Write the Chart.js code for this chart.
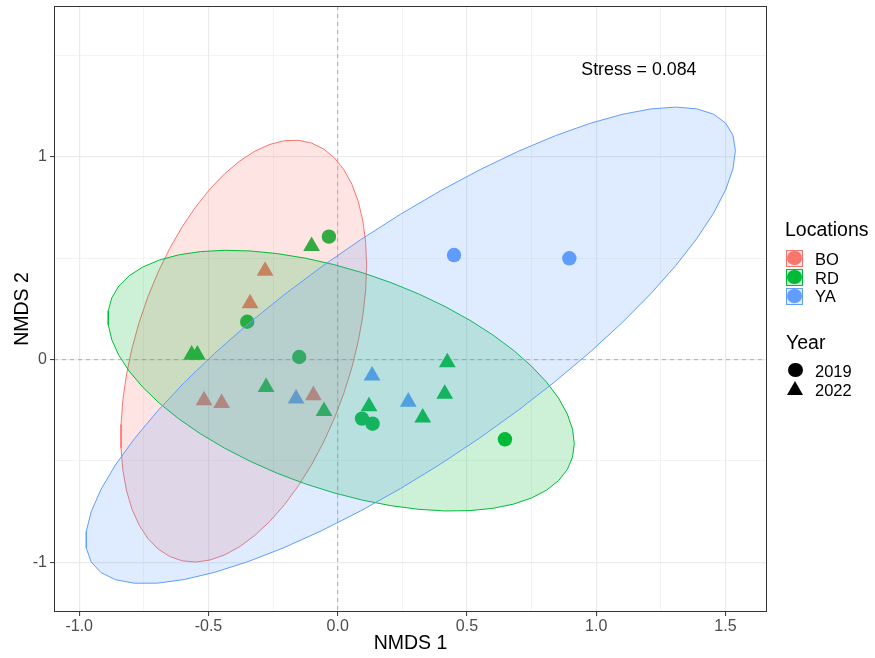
<!DOCTYPE html>
<html>
<head>
<meta charset="utf-8">
<script src="https://cdn.jsdelivr.net/npm/chart.js@4.4.0/dist/chart.umd.min.js"></script>
<style>
  html, body { margin: 0; padding: 0; background: #fff; }
  #wrap { position: relative; width: 875px; height: 658px; font-family: "Liberation Sans", Arial, sans-serif; }
  #nmds { position: absolute; left: 0; top: 0; }
  .lg { position: absolute; white-space: nowrap; color: #000; }
  .lg-title { font-size: 19.5px; line-height: 19.5px; }
  .lg-text { font-size: 16.5px; line-height: 16.5px; }
  .key { position: absolute; width: 17px; height: 17px; box-sizing: border-box; border: 1px solid; }
  .dot { position: absolute; width: 14.4px; height: 14.4px; border-radius: 50%; }
  .tri { position: absolute; width: 0; height: 0; border-left: 8.5px solid transparent; border-right: 8.5px solid transparent; border-bottom: 14.7px solid #000; }
</style>
</head>
<body>
<div id="wrap">
  <canvas id="nmds" width="875" height="658"></canvas>

  <div class="lg lg-title" style="left:785px; top:220px;">Locations</div>
  <div class="key" id="keyBO" style="left:786px; top:249.5px;"><div class="dot" style="left:0.3px; top:0.3px;"></div></div>
  <div class="key" id="keyRD" style="left:786px; top:268.5px;"><div class="dot" style="left:0.3px; top:0.3px;"></div></div>
  <div class="key" id="keyYA" style="left:786px; top:287.5px;"><div class="dot" style="left:0.3px; top:0.3px;"></div></div>
  <div class="lg lg-text" style="left:815px; top:251px;">BO</div>
  <div class="lg lg-text" style="left:815px; top:269.5px;">RD</div>
  <div class="lg lg-text" style="left:815px; top:288px;">YA</div>

  <div class="lg lg-title" style="left:786px; top:333px;">Year</div>
  <div class="dot" style="left:788.3px; top:362.8px; background:#000;"></div>
  <div class="tri" style="left:787px; top:380.5px;"></div>
  <div class="lg lg-text" style="left:815px; top:363px;">2019</div>
  <div class="lg lg-text" style="left:815px; top:382px;">2022</div>
</div>

<script>
// NMDS scores, one pair of arrays per location / year
const bo2022X = [-0.281, -0.339, -0.517, -0.449, -0.094];
const bo2022Y = [0.438, 0.277, -0.201, -0.215, -0.176];

const rd2019X = [-0.034, -0.350, -0.149, 0.094, 0.135, 0.647];
const rd2019Y = [0.607, 0.187, 0.013, -0.291, -0.316, -0.393];
const rd2022X = [-0.101, -0.565, -0.543, -0.277, -0.053, 0.424, 0.414, 0.121, 0.329];
const rd2022Y = [0.560, 0.024, 0.024, -0.136, -0.254, -0.014, -0.169, -0.231, -0.286];

const ya2019X = [0.450, 0.896];
const ya2019Y = [0.516, 0.500];
const ya2022X = [-0.161, 0.133, 0.273];
const ya2022Y = [-0.193, -0.079, -0.208];

const locations = ['BO', 'RD', 'YA'];
const years = ['2019', '2022'];

const xMajorTicks = [-1, -0.5, 0, 0.5, 1, 1.5];
const xMinorTicks = [-0.75, -0.25, 0.25, 0.75, 1.25];
const yMajorTicks = [-1, 0, 1];
const yMinorTicks = [-0.5, 0.5, 1.5];

const xLimits = [-1.0975, 1.6607];
const yLimits = [-1.2452, 1.745];

const stressText = 'Stress = 0.084';
const stressAt = [1.165, 1.428];

// colours (ggplot default hue palette)
const colours = { BO: '#F8766D', RD: '#00BA38', YA: '#619CFF' };
const FONT = '"Liberation Sans", Arial, sans-serif';

function alpha(hex, a) {
    const n = parseInt(hex.slice(1), 16);
    return `rgba(${(n >> 16) & 255}, ${(n >> 8) & 255}, ${n & 255}, ${a})`;
}

function toPoints(xs, ys) {
    return xs.map((x, i) => ({ x: x, y: ys[i] }));
}

// MASS::cov.trob, as used by ggplot2::stat_ellipse (type = "t")
function covTrob(xs, ys, nu = 5, maxit = 25, tol = 0.01) {
    const n = xs.length, p = 2;
    let w = new Array(n).fill(1);
    let locX = xs.reduce((a, b) => a + b, 0) / n;
    let locY = ys.reduce((a, b) => a + b, 0) / n;
    let dx = [], dy = [];
    for (let iter = 0; iter < maxit; iter++) {
        const w0 = w.slice();
        dx = xs.map(v => v - locX);
        dy = ys.map(v => v - locY);
        const sw = w.reduce((a, b) => a + b, 0);
        let cxx = 0, cxy = 0, cyy = 0;
        for (let i = 0; i < n; i++) {
            cxx += w[i] * dx[i] * dx[i] / sw;
            cxy += w[i] * dx[i] * dy[i] / sw;
            cyy += w[i] * dy[i] * dy[i] / sw;
        }
        const det = cxx * cyy - cxy * cxy;
        w = dx.map((_, i) => {
            const q = (cyy * dx[i] * dx[i] - 2 * cxy * dx[i] * dy[i] + cxx * dy[i] * dy[i]) / det;
            return (nu + p) / (nu + q);
        });
        const sw2 = w.reduce((a, b) => a + b, 0);
        locX = xs.reduce((a, v, i) => a + w[i] * v, 0) / sw2;
        locY = ys.reduce((a, v, i) => a + w[i] * v, 0) / sw2;
        if (w.every((v, i) => Math.abs(v - w0[i]) < tol)) break;
    }
    let sxx = 0, sxy = 0, syy = 0;
    for (let i = 0; i < n; i++) {
        sxx += w[i] * dx[i] * dx[i] / n;
        sxy += w[i] * dx[i] * dy[i] / n;
        syy += w[i] * dy[i] * dy[i] / n;
    }
    return { cx: locX, cy: locY, sxx: sxx, sxy: sxy, syy: syy };
}

// 95% ellipse outline, 51 segments like stat_ellipse
function ellipseOutline(xs, ys, level = 0.95, segments = 51) {
    const v = covTrob(xs, ys);
    const dfd = xs.length - 1;
    const qf = (dfd / 2) * (Math.pow(1 - level, -2 / dfd) - 1); // F(2, dfd) quantile
    const r = Math.sqrt(2 * qf);
    const r11 = Math.sqrt(v.sxx);
    const r12 = v.sxy / r11;
    const r22 = Math.sqrt(v.syy - r12 * r12);
    const out = [];
    for (let k = 0; k <= segments; k++) {
        const a = k * 2 * Math.PI / segments;
        const c = Math.cos(a), s = Math.sin(a);
        out.push({ x: v.cx + r * c * r11, y: v.cy + r * (c * r12 + s * r22) });
    }
    return out;
}

const groups = {
    BO: { x: [...bo2022X], y: [...bo2022Y] },
    RD: { x: [...rd2019X, ...rd2022X], y: [...rd2019Y, ...rd2022Y] },
    YA: { x: [...ya2019X, ...ya2022X], y: [...ya2019Y, ...ya2022Y] }
};

// ellipses sit on top of the points (lower order = drawn later)
const ellipseOrder = { BO: 3, RD: 2, YA: 1 };
const ellipseSets = locations.map(loc => ({
    type: 'line',
    label: loc + ' ellipse',
    data: ellipseOutline(groups[loc].x, groups[loc].y),
    borderColor: colours[loc],
    borderWidth: 1,
    backgroundColor: alpha(colours[loc], 0.2),
    fill: 'shape',
    pointRadius: 0,
    tension: 0,
    order: ellipseOrder[loc]
}));

function pointSet(loc, year, xs, ys) {
    const circle = year === '2019';
    return {
        label: loc + ' ' + year,
        data: toPoints(xs, ys),
        pointStyle: circle ? 'circle' : 'triangle',
        pointRadius: circle ? 7.2 : 9.7,
        pointHoverRadius: circle ? 7.2 : 9.7,
        pointBorderWidth: 0,
        backgroundColor: colours[loc],
        borderColor: colours[loc],
        order: 10
    };
}

const pointSets = [
    pointSet('BO', years[1], bo2022X, bo2022Y),
    pointSet('RD', years[0], rd2019X, rd2019Y),
    pointSet('RD', years[1], rd2022X, rd2022Y),
    pointSet('YA', years[0], ya2019X, ya2019Y),
    pointSet('YA', years[1], ya2022X, ya2022Y)
];

// legend key colours
locations.forEach(loc => {
    const key = document.getElementById('key' + loc);
    key.style.borderColor = colours[loc];
    key.style.background = alpha(colours[loc], 0.2);
    key.firstElementChild.style.background = colours[loc];
});

const isIn = (list, v) => list.some(m => Math.abs(m - v) < 1e-9);

const panelPlugin = {
    id: 'panel',
    beforeDatasetsDraw(chart) {
        const { ctx, chartArea: a, scales: { x, y } } = chart;
        const x0 = x.getPixelForValue(0);
        const y0 = y.getPixelForValue(0);
        ctx.save();
        ctx.strokeStyle = '#a8a8a8';
        ctx.lineWidth = 0.9;
        ctx.setLineDash([4, 4]);
        ctx.beginPath();
        ctx.moveTo(x0, a.top);
        ctx.lineTo(x0, a.bottom);
        ctx.moveTo(a.left, y0);
        ctx.lineTo(a.right, y0);
        ctx.stroke();
        ctx.restore();
    },
    afterDatasetsDraw(chart) {
        const { ctx, chartArea: a, scales: { x, y } } = chart;
        ctx.save();
        ctx.fillStyle = '#000';
        ctx.font = '17.8px ' + FONT;
        ctx.textAlign = 'center';
        ctx.textBaseline = 'middle';
        ctx.fillText(stressText, x.getPixelForValue(stressAt[0]), y.getPixelForValue(stressAt[1]));
        ctx.strokeStyle = '#333333';
        ctx.lineWidth = 1;
        ctx.strokeRect(a.left + 0.5, a.top + 0.5, a.right - a.left - 1, a.bottom - a.top - 1);
        ctx.restore();
    }
};

function axisGrid(major) {
    return {
        color: '#EBEBEB',
        lineWidth: c => (c.tick && isIn(major, c.tick.value)) ? 1.2 : 0.6,
        drawTicks: true,
        tickLength: 4,
        tickWidth: 1,
        tickColor: c => (c.tick && isIn(major, c.tick.value)) ? '#333333' : 'rgba(0,0,0,0)'
    };
}

const ctx = document.getElementById('nmds');
new Chart(ctx, {
    type: 'scatter',
    data: { datasets: [...ellipseSets, ...pointSets] },
    options: {
        responsive: false,
        animation: false,
        devicePixelRatio: 1,
        layout: { autoPadding: false, padding: { top: 6, right: 108, bottom: 0, left: 0 } },
        plugins: { legend: { display: false }, tooltip: { enabled: false } },
        scales: {
            x: {
                type: 'linear',
                min: xLimits[0],
                max: xLimits[1],
                afterFit: s => {
                    s.height = 46;
                    s.paddingLeft = 0;
                    s.paddingRight = 0;
                },
                afterBuildTicks: s => {
                    s.ticks = [...xMajorTicks, ...xMinorTicks].sort((a, b) => a - b).map(v => ({ value: v }));
                },
                ticks: {
                    autoSkip: false,
                    maxRotation: 0,
                    padding: 1,
                    color: '#4D4D4D',
                    font: { family: FONT, size: 16 },
                    callback: v => isIn(xMajorTicks, v) ? v.toFixed(1) : ''
                },
                grid: axisGrid(xMajorTicks),
                border: { display: false },
                title: {
                    display: true,
                    text: 'NMDS 1',
                    color: '#000',
                    font: { family: FONT, size: 19.5 },
                    padding: { top: 0, bottom: 3 }
                }
            },
            y: {
                type: 'linear',
                min: yLimits[0],
                max: yLimits[1],
                afterFit: s => {
                    s.width = 54;
                    s.paddingTop = 0;
                    s.paddingBottom = 0;
                },
                afterBuildTicks: s => {
                    s.ticks = [...yMajorTicks, ...yMinorTicks].sort((a, b) => a - b).map(v => ({ value: v }));
                },
                ticks: {
                    autoSkip: false,
                    padding: 3,
                    color: '#4D4D4D',
                    font: { family: FONT, size: 16 },
                    callback: v => isIn(yMajorTicks, v) ? String(v) : ''
                },
                grid: axisGrid(yMajorTicks),
                border: { display: false },
                title: {
                    display: true,
                    text: 'NMDS 2',
                    color: '#000',
                    font: { family: FONT, size: 19.5 },
                    padding: { top: 11, bottom: 0 }
                }
            }
        }
    },
    plugins: [panelPlugin]
});
</script>
</body>
</html>
